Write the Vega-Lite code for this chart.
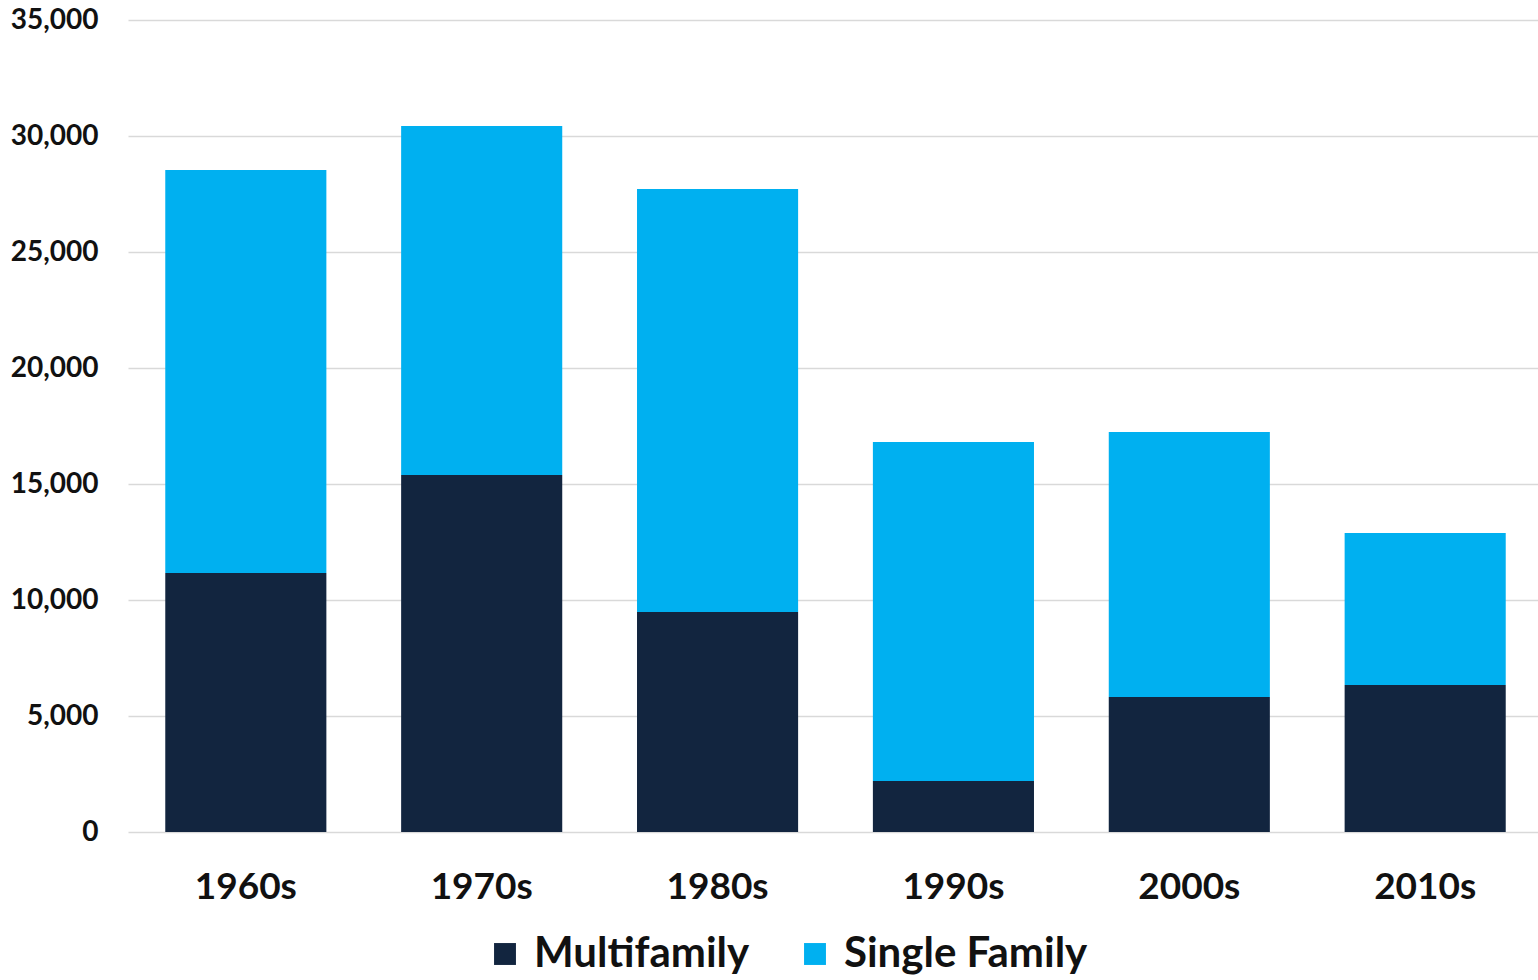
{
  "$schema": "https://vega.github.io/schema/vega-lite/v6.json",
  "width": 1415,
  "height": 812,
  "autosize": {"type": "none"},
  "padding": {"left": 128, "top": 20, "right": 0, "bottom": 148},
  "background": "white",
  "data": {
    "values": [
      {"decade": "1960s", "type": "Multifamily", "units": 11160},
      {"decade": "1960s", "type": "Single Family", "units": 17370},
      {"decade": "1970s", "type": "Multifamily", "units": 15390},
      {"decade": "1970s", "type": "Single Family", "units": 15040},
      {"decade": "1980s", "type": "Multifamily", "units": 9480},
      {"decade": "1980s", "type": "Single Family", "units": 18240},
      {"decade": "1990s", "type": "Multifamily", "units": 2200},
      {"decade": "1990s", "type": "Single Family", "units": 14610},
      {"decade": "2000s", "type": "Multifamily", "units": 5820},
      {"decade": "2000s", "type": "Single Family", "units": 11420},
      {"decade": "2010s", "type": "Multifamily", "units": 6340},
      {"decade": "2010s", "type": "Single Family", "units": 6550}
    ]
  },
  "mark": {"type": "bar"},
  "encoding": {
    "x": {
      "field": "decade",
      "type": "nominal",
      "sort": null,
      "title": null,
      "scale": {"paddingInner": 0.317, "paddingOuter": 0.158},
      "axis": {
        "labelAngle": 0,
        "labelFont": "Lato",
        "labelFontWeight": "bold",
        "labelFontSize": 37,
        "labelColor": "#111111",
        "labelPadding": 37,
        "domain": false,
        "ticks": false,
        "grid": false
      }
    },
    "y": {
      "field": "units",
      "type": "quantitative",
      "aggregate": "sum",
      "stack": "zero",
      "title": null,
      "scale": {"domain": [0, 35000], "nice": false},
      "axis": {
        "values": [0, 5000, 10000, 15000, 20000, 25000, 30000, 35000],
        "format": ",d",
        "labelFont": "Lato",
        "labelFontWeight": "bold",
        "labelFontSize": 28,
        "labelColor": "#111111",
        "labelPadding": 30,
        "domain": false,
        "ticks": false,
        "grid": true,
        "gridColor": "#d9d9d9",
        "gridWidth": 1.5
      }
    },
    "color": {
      "field": "type",
      "type": "nominal",
      "title": null,
      "scale": {"domain": ["Multifamily", "Single Family"], "range": ["#12253f", "#00b0f0"]},
      "legend": {
        "orient": "none",
        "direction": "horizontal",
        "legendX": 356,
        "legendY": 913,
        "symbolType": "square",
        "symbolSize": 480,
        "symbolStrokeWidth": 0,
        "labelFont": "Lato",
        "labelFontWeight": "bold",
        "labelFontSize": 42,
        "labelColor": "#111111",
        "labelOffset": 8,
        "columnPadding": 44,
        "labelLimit": 400
      }
    },
    "order": {"field": "type", "sort": "ascending"}
  },
  "config": {"view": {"stroke": null}}
}
